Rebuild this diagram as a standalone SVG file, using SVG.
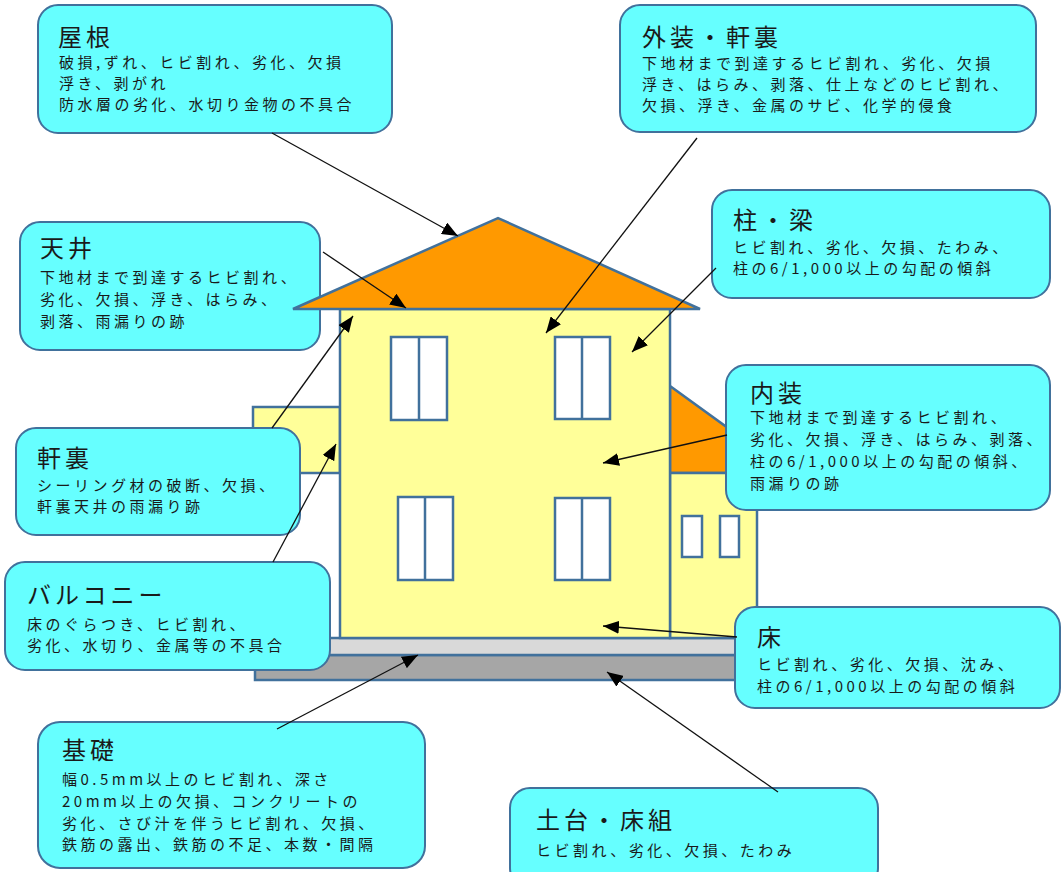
<svg xmlns="http://www.w3.org/2000/svg" width="1062" height="872" viewBox="0 0 1062 872">
  <style>
    .box { fill: #66FFFF; stroke: #41719C; stroke-width: 2; }
    .edge { stroke: #41719C; stroke-width: 2.5; }
    .wall { fill: #FFFF99; }
    .roof { fill: #FF9900; }
    .win { fill: #FFFFFF; stroke: #41719C; stroke-width: 2.5; }
    .title { font-family: "Noto Sans CJK JP", "Noto Sans", sans-serif; font-size: 24px; letter-spacing: 4px; fill: #1a1a1a; }
    .body { font-family: "Noto Sans CJK JP", "Noto Sans", sans-serif; font-size: 15px; letter-spacing: 3.5px; fill: #1a1a1a; }
    .conn { stroke: #111111; stroke-width: 1.3; fill: none; marker-end: url(#arrow); }
  </style>
  <defs>
    <marker id="arrow" markerUnits="userSpaceOnUse" markerWidth="17" markerHeight="13" refX="16" refY="6.5" orient="auto">
      <path d="M0,0 L16,6.5 L0,13 z" fill="#000000"/>
    </marker>
  </defs>

  <rect width="1062" height="872" fill="#FFFFFF"/>

  <!-- ceiling callout sits beneath the roof eave -->
  <g id="node-tenjo">
    <rect class="box" x="20" y="222" width="300" height="128" rx="20"/>
    <text class="title" x="40" y="257">天井</text>
    <text class="body" x="40" y="283">下地材まで到達するヒビ割れ、</text>
    <text class="body" x="40" y="305">劣化、欠損、浮き、はらみ、</text>
    <text class="body" x="40" y="327">剥落、雨漏りの跡</text>
  </g>

  <!-- house -->
  <g id="house">
    <!-- foundation -->
    <rect x="255" y="655" width="505" height="25" fill="#A6A6A6" class="edge"/>
    <rect x="255" y="638" width="505" height="17" fill="#D9D9D9" class="edge"/>
    <!-- balcony -->
    <rect class="wall edge" x="253" y="407" width="87" height="66"/>
    <!-- annex -->
    <polygon class="roof edge" points="670,386 790,473 670,473"/>
    <rect class="wall edge" x="670" y="473" width="87" height="165"/>
    <rect class="win" x="682" y="516" width="20" height="41"/>
    <rect class="win" x="720" y="516" width="19" height="41"/>
    <!-- main body -->
    <rect class="wall edge" x="340" y="309" width="330" height="329"/>
    <polygon class="roof edge" points="293,309 498,218 700,309"/>
    <!-- windows -->
    <rect class="win" x="391" y="337" width="56" height="83"/>
    <line class="edge" x1="419" y1="337" x2="419" y2="420"/>
    <rect class="win" x="555" y="337" width="55" height="82"/>
    <line class="edge" x1="582" y1="337" x2="582" y2="419"/>
    <rect class="win" x="398" y="497" width="55" height="83"/>
    <line class="edge" x1="425" y1="497" x2="425" y2="580"/>
    <rect class="win" x="555" y="498" width="55" height="82"/>
    <line class="edge" x1="582" y1="498" x2="582" y2="580"/>
  </g>

  <g id="node-yane">
    <rect class="box" x="38" y="5" width="354" height="128" rx="20"/>
    <text class="title" x="58" y="46">屋根</text>
    <text class="body" x="59" y="68">破損,ずれ、ヒビ割れ、劣化、欠損</text>
    <text class="body" x="59" y="89">浮き、剥がれ</text>
    <text class="body" x="59" y="110">防水層の劣化、水切り金物の不具合</text>
  </g>

  <g id="node-gaiso">
    <rect class="box" x="620" y="5" width="416" height="127" rx="20"/>
    <text class="title" x="642" y="46">外装・軒裏</text>
    <text class="body" x="642" y="69">下地材まで到達するヒビ割れ、劣化、欠損</text>
    <text class="body" x="642" y="90">浮き、はらみ、剥落、仕上などのヒビ割れ、</text>
    <text class="body" x="642" y="111">欠損、浮き、金属のサビ、化学的侵食</text>
  </g>

  <g id="node-hashira">
    <rect class="box" x="712" y="190" width="338" height="108" rx="20"/>
    <text class="title" x="733" y="229">柱・梁</text>
    <text class="body" x="733" y="253">ヒビ割れ、劣化、欠損、たわみ、</text>
    <text class="body" x="733" y="274">柱の6/1,000以上の勾配の傾斜</text>
  </g>

  <g id="node-naiso">
    <rect class="box" x="726" y="365" width="324" height="145" rx="20"/>
    <text class="title" x="750" y="402">内装</text>
    <text class="body" x="750" y="423">下地材まで到達するヒビ割れ、</text>
    <text class="body" x="750" y="445">劣化、欠損、浮き、はらみ、剥落、</text>
    <text class="body" x="750" y="467">柱の6/1,000以上の勾配の傾斜、</text>
    <text class="body" x="750" y="489">雨漏りの跡</text>
  </g>

  <g id="node-nokiura">
    <rect class="box" x="16" y="428" width="284" height="107" rx="20"/>
    <text class="title" x="37" y="467">軒裏</text>
    <text class="body" x="37" y="491">シーリング材の破断、欠損、</text>
    <text class="body" x="37" y="512">軒裏天井の雨漏り跡</text>
  </g>

  <g id="node-balcony">
    <rect class="box" x="5" y="562" width="325" height="108" rx="20"/>
    <text class="title" x="27" y="604">バルコニー</text>
    <text class="body" x="27" y="630">床のぐらつき、ヒビ割れ、</text>
    <text class="body" x="27" y="651">劣化、水切り、金属等の不具合</text>
  </g>

  <g id="node-yuka">
    <rect class="box" x="735" y="607" width="325" height="101" rx="20"/>
    <text class="title" x="757" y="646">床</text>
    <text class="body" x="757" y="670">ヒビ割れ、劣化、欠損、沈み、</text>
    <text class="body" x="757" y="692">柱の6/1,000以上の勾配の傾斜</text>
  </g>

  <g id="node-kiso">
    <rect class="box" x="38" y="722" width="387" height="146" rx="22"/>
    <text class="title" x="62" y="759">基礎</text>
    <text class="body" x="62" y="785">幅0.5mm以上のヒビ割れ、深さ</text>
    <text class="body" x="62" y="807">20mm以上の欠損、コンクリートの</text>
    <text class="body" x="62" y="829">劣化、さび汁を伴うヒビ割れ、欠損、</text>
    <text class="body" x="62" y="850">鉄筋の露出、鉄筋の不足、本数・間隔</text>
  </g>

  <g id="node-dodai">
    <rect class="box" x="510" y="788" width="368" height="100" rx="20"/>
    <text class="title" x="536" y="829">土台・床組</text>
    <text class="body" x="536" y="856">ヒビ割れ、劣化、欠損、たわみ</text>
  </g>

  <!-- leader arrows -->
  <g id="connectors">
    <line class="conn" x1="272" y1="133" x2="458" y2="236"/>
    <line class="conn" x1="323" y1="252" x2="406" y2="308"/>
    <line class="conn" x1="697" y1="138" x2="546" y2="333"/>
    <line class="conn" x1="716" y1="268" x2="632" y2="352"/>
    <line class="conn" x1="272" y1="428" x2="353" y2="316"/>
    <line class="conn" x1="273" y1="562" x2="336" y2="444"/>
    <line class="conn" x1="727" y1="435" x2="603" y2="463"/>
    <line class="conn" x1="737" y1="637" x2="603" y2="626"/>
    <line class="conn" x1="277" y1="729" x2="418" y2="655"/>
    <line class="conn" x1="778" y1="792" x2="607" y2="672"/>
  </g>
</svg>
